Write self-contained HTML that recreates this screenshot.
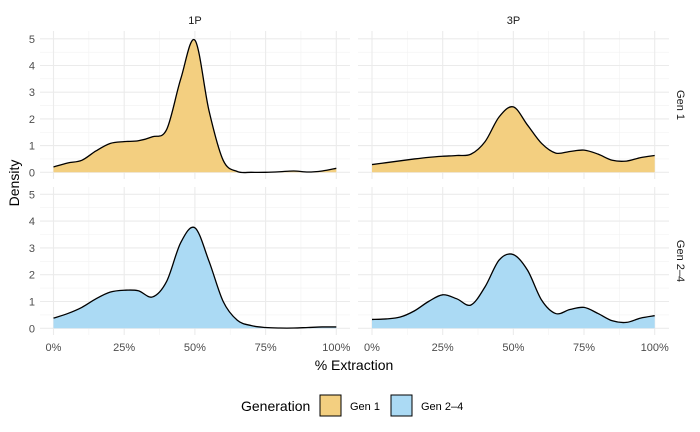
<!DOCTYPE html>
<html><head><meta charset="utf-8"><style>
body{margin:0;background:#fff;}
svg{display:block;font-family:"Liberation Sans",Arial,sans-serif;}
</style></head><body>
<svg id="chart" width="700" height="432"></svg>
<script>
const xs=[0,5,10,15,20,25,30,35,40,45,50,55,60,65,70,75,80,85,90,95,100];
const gen1_1P=[0.2,0.35,0.45,0.8,1.08,1.15,1.18,1.33,1.6,3.5,4.95,2.3,0.45,0.03,0,0,0.02,0.05,0.01,0.05,0.15];
const gen1_3P=[0.29,0.36,0.43,0.5,0.56,0.6,0.63,0.68,1.15,2.08,2.45,1.77,1.08,0.72,0.78,0.83,0.68,0.45,0.42,0.55,0.63];
const gen24_1P=[0.38,0.55,0.78,1.1,1.35,1.42,1.4,1.17,1.75,3.2,3.75,2.5,1.0,0.3,0.1,0.03,0.01,0.01,0.03,0.05,0.05];
const gen24_3P=[0.33,0.35,0.42,0.65,1.0,1.25,1.1,0.87,1.55,2.55,2.75,2.17,1.05,0.55,0.7,0.78,0.55,0.28,0.22,0.38,0.47];
const xTicks=[0,25,50,75,100];
const xTickLabels=["0%","25%","50%","75%","100%"];
const yTicks=[0,1,2,3,4,5];
const cols=["1P","3P"], rows=["Gen 1","Gen 2\u20134"];
const series=[[gen1_1P,gen1_3P],[gen24_1P,gen24_3P]];
const fills=["#F3CF80","#ABDAF4"];
const NS="http://www.w3.org/2000/svg";
const svg=document.getElementById('chart');
function el(t,a,p){const e=document.createElementNS(NS,t);for(const k in a)e.setAttribute(k,a[k]);(p||svg).appendChild(e);return e;}
const panelX=[[40,350],[358,669]], panelY=[[31,179],[187,335]];
const x0=[53.5,372], x100=[336.3,654.7];
const y0=[172.3,328.3], unit=[26.7,26.8];
function sx(c,v){return x0[c]+(x100[c]-x0[c])*v/100;}
function sy(r,v){return y0[r]-unit[r]*v;}
function smooth(pts){let d="M"+pts[0][0]+","+pts[0][1];
 for(let i=0;i<pts.length-1;i++){const p0=pts[i-1]||pts[i],p1=pts[i],p2=pts[i+1],p3=pts[i+2]||p2;
  const c1=[p1[0]+(p2[0]-p0[0])/6,p1[1]+(p2[1]-p0[1])/6],c2=[p2[0]-(p3[0]-p1[0])/6,p2[1]-(p3[1]-p1[1])/6];
  d+=` C${c1[0].toFixed(2)},${c1[1].toFixed(2)} ${c2[0].toFixed(2)},${c2[1].toFixed(2)} ${p2[0].toFixed(2)},${p2[1].toFixed(2)}`;}
 return d;}
for(let r=0;r<2;r++)for(let c=0;c<2;c++){
 const g=el('g',{});
 
 
 const [L,R]=panelX[c],[T,B]=panelY[r];
 for(let v=0.5;v<5.3;v+=1){el('line',{x1:L,x2:R,y1:sy(r,v),y2:sy(r,v),stroke:'#F2F2F2','stroke-width':0.6},g);}
 for(let v=12.5;v<100;v+=25){el('line',{x1:sx(c,v),x2:sx(c,v),y1:T,y2:B,stroke:'#F2F2F2','stroke-width':0.6},g);}
 yTicks.forEach(v=>el('line',{x1:L,x2:R,y1:sy(r,v),y2:sy(r,v),stroke:'#EBEBEB','stroke-width':1.1},g));
 xTicks.forEach(v=>el('line',{x1:sx(c,v),x2:sx(c,v),y1:T,y2:B,stroke:'#EBEBEB','stroke-width':1.1},g));
 const vals=series[r][c];
 const pts=xs.map((x,i)=>[sx(c,x),sy(r,vals[i])]);
 const line=smooth(pts);
 const area=el('path',{d:line+` L${sx(c,100)},${sy(r,0)} L${sx(c,0)},${sy(r,0)} Z`,fill:fills[r],stroke:'none'},g);
 
 
 const ln=el('path',{d:line,fill:'none',stroke:'#000','stroke-width':1.3},g);
 
 
 if(c===0){yTicks.forEach(v=>{const t=el('text',{x:35,y:sy(r,v)+4,'text-anchor':'end','font-size':11,fill:'#4D4D4D'});t.textContent=v;
   });}
 if(r===1){xTicks.forEach((v,i)=>{const t=el('text',{x:sx(c,v),y:351,'text-anchor':'middle','font-size':11,fill:'#4D4D4D'});t.textContent=xTickLabels[i];
   });}
 if(r===0){const t=el('text',{x:(L+R)/2,y:24,'text-anchor':'middle','font-size':11,fill:'#1A1A1A'});t.textContent=cols[c];
   }
 if(c===1){const cy=(T+B)/2;const t=el('text',{x:677,y:cy,'text-anchor':'middle','font-size':11,fill:'#1A1A1A',transform:`rotate(90 677 ${cy})`});t.textContent=rows[r];
   }
}
let t=el('text',{x:354,y:370,'text-anchor':'middle','font-size':14,fill:'#000'});t.textContent='% Extraction';

t=el('text',{x:19,y:183,'text-anchor':'middle','font-size':14,fill:'#000',transform:'rotate(-90 19 183)'});t.textContent='Density';

t=el('text',{x:241,y:411,'font-size':14,fill:'#000'});t.textContent='Generation';

const leg=[["Gen 1",320,fills[0]],["Gen 2\u20134",391,fills[1]]];
leg.forEach(l=>{const g=el('g',{});
 el('rect',{x:l[1],y:395,width:21,height:21,fill:l[2],stroke:'#000','stroke-width':1},g);
 const tt=el('text',{x:l[1]+30,y:410,'font-size':11,fill:'#000'},g);tt.textContent=l[0];});
</script>
</body></html>
